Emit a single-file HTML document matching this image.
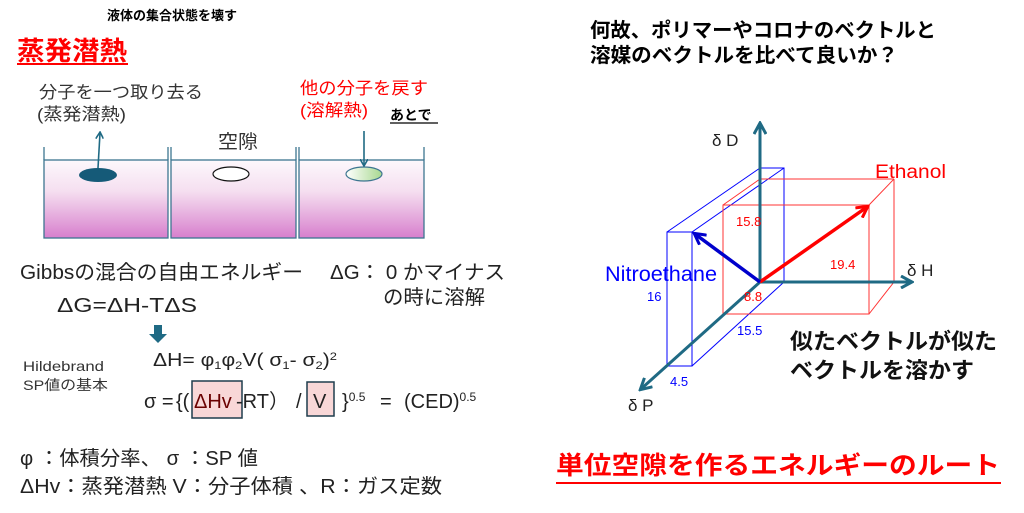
<!DOCTYPE html>
<html><head><meta charset="utf-8"><style>
html,body{margin:0;padding:0;background:#fff;}
svg{display:block;}
text{font-family:"Liberation Sans","Noto Sans CJK JP",sans-serif;}
</style></head><body>
<svg width="1024" height="513" viewBox="0 0 1024 513" xmlns="http://www.w3.org/2000/svg">
<defs>
<linearGradient id="liq" x1="0" y1="0" x2="0" y2="1">
<stop offset="0" stop-color="#fdf8fc"/><stop offset="0.4" stop-color="#f5dff0"/><stop offset="1" stop-color="#d77fcd"/>
</linearGradient>
<linearGradient id="grn" x1="0" y1="0" x2="1" y2="0">
<stop offset="0" stop-color="#fff"/><stop offset="1" stop-color="#a8d890"/>
</linearGradient>
<marker id="ah" markerWidth="8" markerHeight="8" refX="6" refY="4" orient="auto" markerUnits="userSpaceOnUse"><path d="M0,0 L7,4 L0,8" fill="none" stroke="#1f6a84" stroke-width="1.6"/></marker>
<marker id="ax" markerWidth="14" markerHeight="14" refX="11" refY="7" orient="auto" markerUnits="userSpaceOnUse"><path d="M1,1 L12,7 L1,13" fill="none" stroke="#1f6a84" stroke-width="3"/></marker>
<marker id="ar" markerWidth="14" markerHeight="14" refX="11" refY="7" orient="auto" markerUnits="userSpaceOnUse"><path d="M1,1 L12,7 L1,13" fill="none" stroke="#f00" stroke-width="3"/></marker>
<marker id="ab" markerWidth="14" markerHeight="14" refX="11" refY="7" orient="auto" markerUnits="userSpaceOnUse"><path d="M1,1 L12,7 L1,13" fill="none" stroke="#00c" stroke-width="3"/></marker>
</defs>

<text x="172" y="20" font-size="13" font-weight="bold" text-anchor="middle">液体の集合状態を壊す</text>
<text x="17" y="60" font-size="26" font-weight="bold" fill="#f00" textLength="110" lengthAdjust="spacingAndGlyphs">蒸発潜熱</text>
<line x1="17" y1="64" x2="128" y2="64" stroke="#f00" stroke-width="2"/>
<text x="39" y="98" font-size="17" fill="#333" textLength="164" lengthAdjust="spacingAndGlyphs">分子を一つ取り去る</text>
<text x="37" y="120" font-size="17" fill="#333" textLength="89" lengthAdjust="spacingAndGlyphs">(蒸発潜熱)</text>
<text x="300" y="94" font-size="17" fill="#f00" textLength="128" lengthAdjust="spacingAndGlyphs">他の分子を戻す</text>
<text x="300" y="116" font-size="17" fill="#f00" textLength="68" lengthAdjust="spacingAndGlyphs">(溶解熱)</text>
<text x="390" y="120" font-size="14" font-weight="bold">あとで</text>
<line x1="390" y1="123" x2="438" y2="123" stroke="#000" stroke-width="1.2"/>
<text x="218" y="148" font-size="19" fill="#333" textLength="40" lengthAdjust="spacingAndGlyphs">空隙</text>

<rect x="44" y="160" width="124" height="78" fill="url(#liq)" stroke="#3d7590" stroke-width="1.3"/>
<rect x="171" y="160" width="125" height="78" fill="url(#liq)" stroke="#3d7590" stroke-width="1.3"/>
<rect x="299" y="160" width="125" height="78" fill="url(#liq)" stroke="#3d7590" stroke-width="1.3"/>
<g stroke="#3d7590" stroke-width="1.3">
<line x1="44" y1="147" x2="44" y2="160"/><line x1="168" y1="147" x2="168" y2="160"/>
<line x1="171" y1="147" x2="171" y2="160"/><line x1="296" y1="147" x2="296" y2="160"/>
<line x1="299" y1="147" x2="299" y2="160"/><line x1="424" y1="147" x2="424" y2="160"/>
</g>
<ellipse cx="98" cy="175" rx="19" ry="7" fill="#155a78"/>
<ellipse cx="231" cy="174" rx="18" ry="7" fill="#fff" stroke="#111" stroke-width="1.2"/>
<ellipse cx="364" cy="174" rx="18" ry="7" fill="url(#grn)" stroke="#3d7590" stroke-width="1.2"/>
<line x1="98" y1="168" x2="100" y2="133" stroke="#1f6a84" stroke-width="1.6" marker-end="url(#ah)"/>
<line x1="364" y1="131" x2="364" y2="165" stroke="#1f6a84" stroke-width="1.6" marker-end="url(#ah)"/>

<text x="20" y="279" font-size="20" fill="#222" textLength="283" lengthAdjust="spacingAndGlyphs">Gibbsの混合の自由エネルギー</text>
<text x="330" y="279" font-size="20" fill="#222" textLength="175" lengthAdjust="spacingAndGlyphs">ΔG： 0 かマイナス</text>
<text x="383" y="304" font-size="20" fill="#222" textLength="102" lengthAdjust="spacingAndGlyphs">の時に溶解</text>
<text x="57" y="312" font-size="20" fill="#222" textLength="140" lengthAdjust="spacingAndGlyphs">ΔG=ΔH-TΔS</text>
<path d="M154,325 h8 v9 h5 l-9,9 l-9,-9 h5z" fill="#1f6a84"/>
<text x="23" y="371" font-size="14" fill="#333" textLength="81" lengthAdjust="spacingAndGlyphs">Hildebrand</text>
<text x="23" y="390" font-size="14" fill="#333" textLength="85" lengthAdjust="spacingAndGlyphs">SP値の基本</text>
<text x="153" y="366" font-size="18" fill="#222" textLength="184" lengthAdjust="spacingAndGlyphs">ΔH= φ<tspan font-size="11" dy="3">1</tspan><tspan dy="-3">φ</tspan><tspan font-size="11" dy="3">2</tspan><tspan dy="-3">V( σ</tspan><tspan font-size="11" dy="3">1</tspan><tspan dy="-3">- σ</tspan><tspan font-size="11" dy="3">2</tspan><tspan dy="-3">)</tspan><tspan font-size="11" dy="-6">2</tspan></text>
<rect x="192" y="381" width="50" height="37" fill="#f8d7d7" stroke="#1f3d4d" stroke-width="1.5"/>
<rect x="307" y="382" width="27" height="34" fill="#f8d7d7" stroke="#1f3d4d" stroke-width="1.5"/>
<g font-size="20" fill="#222">
<text x="144" y="408">σ =</text>
<text x="176" y="408">{(</text>
<text x="194" y="408" fill="#6a0000">ΔHv</text>
<text x="236" y="408">-RT）</text>
<text x="296" y="408">/</text>
<text x="313" y="408">V</text>
<text x="342" y="408">}<tspan font-size="12" dy="-7">0.5</tspan></text>
<text x="380" y="408">=</text>
<text x="404" y="408">(CED)<tspan font-size="12" dy="-7">0.5</tspan></text>
</g>

<text x="20" y="465" font-size="20" fill="#222" textLength="238" lengthAdjust="spacingAndGlyphs">φ ：体積分率、 σ ：SP 値</text>
<text x="20" y="493" font-size="20" fill="#222" textLength="422" lengthAdjust="spacingAndGlyphs">ΔHv：蒸発潜熱  V：分子体積 、R：ガス定数</text>

<text x="590" y="37" font-size="20" font-weight="bold" textLength="346" lengthAdjust="spacingAndGlyphs">何故、ポリマーやコロナのベクトルと</text>
<text x="590" y="62" font-size="20" font-weight="bold" textLength="308" lengthAdjust="spacingAndGlyphs">溶媒のベクトルを比べて良いか？</text>

<g stroke="#00f" stroke-width="1" fill="none">
<rect x="667" y="232" width="25" height="134"/>
<rect x="760" y="168" width="24" height="114"/>
<line x1="667" y1="232" x2="760" y2="168"/><line x1="692" y1="232" x2="784" y2="168"/>
<line x1="692" y1="366" x2="784" y2="282"/>
</g>
<g stroke="#f33" stroke-width="1" fill="none">
<rect x="723" y="205" width="146" height="109"/>
<line x1="760" y1="179" x2="894" y2="179"/><line x1="894" y1="179" x2="894" y2="282"/>
<line x1="894" y1="282" x2="869" y2="314"/><line x1="723" y1="205" x2="760" y2="179"/>
<line x1="869" y1="205" x2="894" y2="179"/>
</g>
<g stroke="#1f6a84" stroke-width="3">
<line x1="760" y1="282" x2="760" y2="124" marker-end="url(#ax)"/>
<line x1="760" y1="282" x2="911" y2="282" marker-end="url(#ax)"/>
<line x1="760" y1="282" x2="641" y2="389" marker-end="url(#ax)"/>
</g>
<line x1="760" y1="282" x2="867" y2="207" stroke="#f00" stroke-width="3.5" marker-end="url(#ar)"/>
<line x1="760" y1="282" x2="695" y2="234" stroke="#00c" stroke-width="3.5" marker-end="url(#ab)"/>

<text x="712" y="146" font-size="17" fill="#222">δ D</text>
<text x="907" y="276" font-size="17" fill="#222">δ H</text>
<text x="628" y="411" font-size="17" fill="#222">δ P</text>
<text x="875" y="178" font-size="19" fill="#f00" textLength="71" lengthAdjust="spacingAndGlyphs">Ethanol</text>
<text x="605" y="281" font-size="21" fill="#00f" textLength="112" lengthAdjust="spacingAndGlyphs">Nitroethane</text>
<g font-size="13">
<text x="736" y="226" fill="#f00">15.8</text>
<text x="830" y="269" fill="#f00">19.4</text>
<text x="744" y="301" fill="#f00">8.8</text>
<text x="647" y="301" fill="#00f">16</text>
<text x="737" y="335" fill="#00f">15.5</text>
<text x="670" y="386" fill="#00f">4.5</text>
</g>

<text x="790" y="349" font-size="22" font-weight="bold" fill="#111" textLength="207" lengthAdjust="spacingAndGlyphs">似たベクトルが似た</text>
<text x="790" y="378" font-size="22" font-weight="bold" fill="#111" textLength="184" lengthAdjust="spacingAndGlyphs">ベクトルを溶かす</text>

<text x="556" y="474" font-size="25" font-weight="bold" fill="#f00" textLength="444" lengthAdjust="spacingAndGlyphs">単位空隙を作るエネルギーのルート</text>
<line x1="556" y1="483" x2="1001" y2="483" stroke="#f00" stroke-width="2"/>
</svg>
</body></html>
